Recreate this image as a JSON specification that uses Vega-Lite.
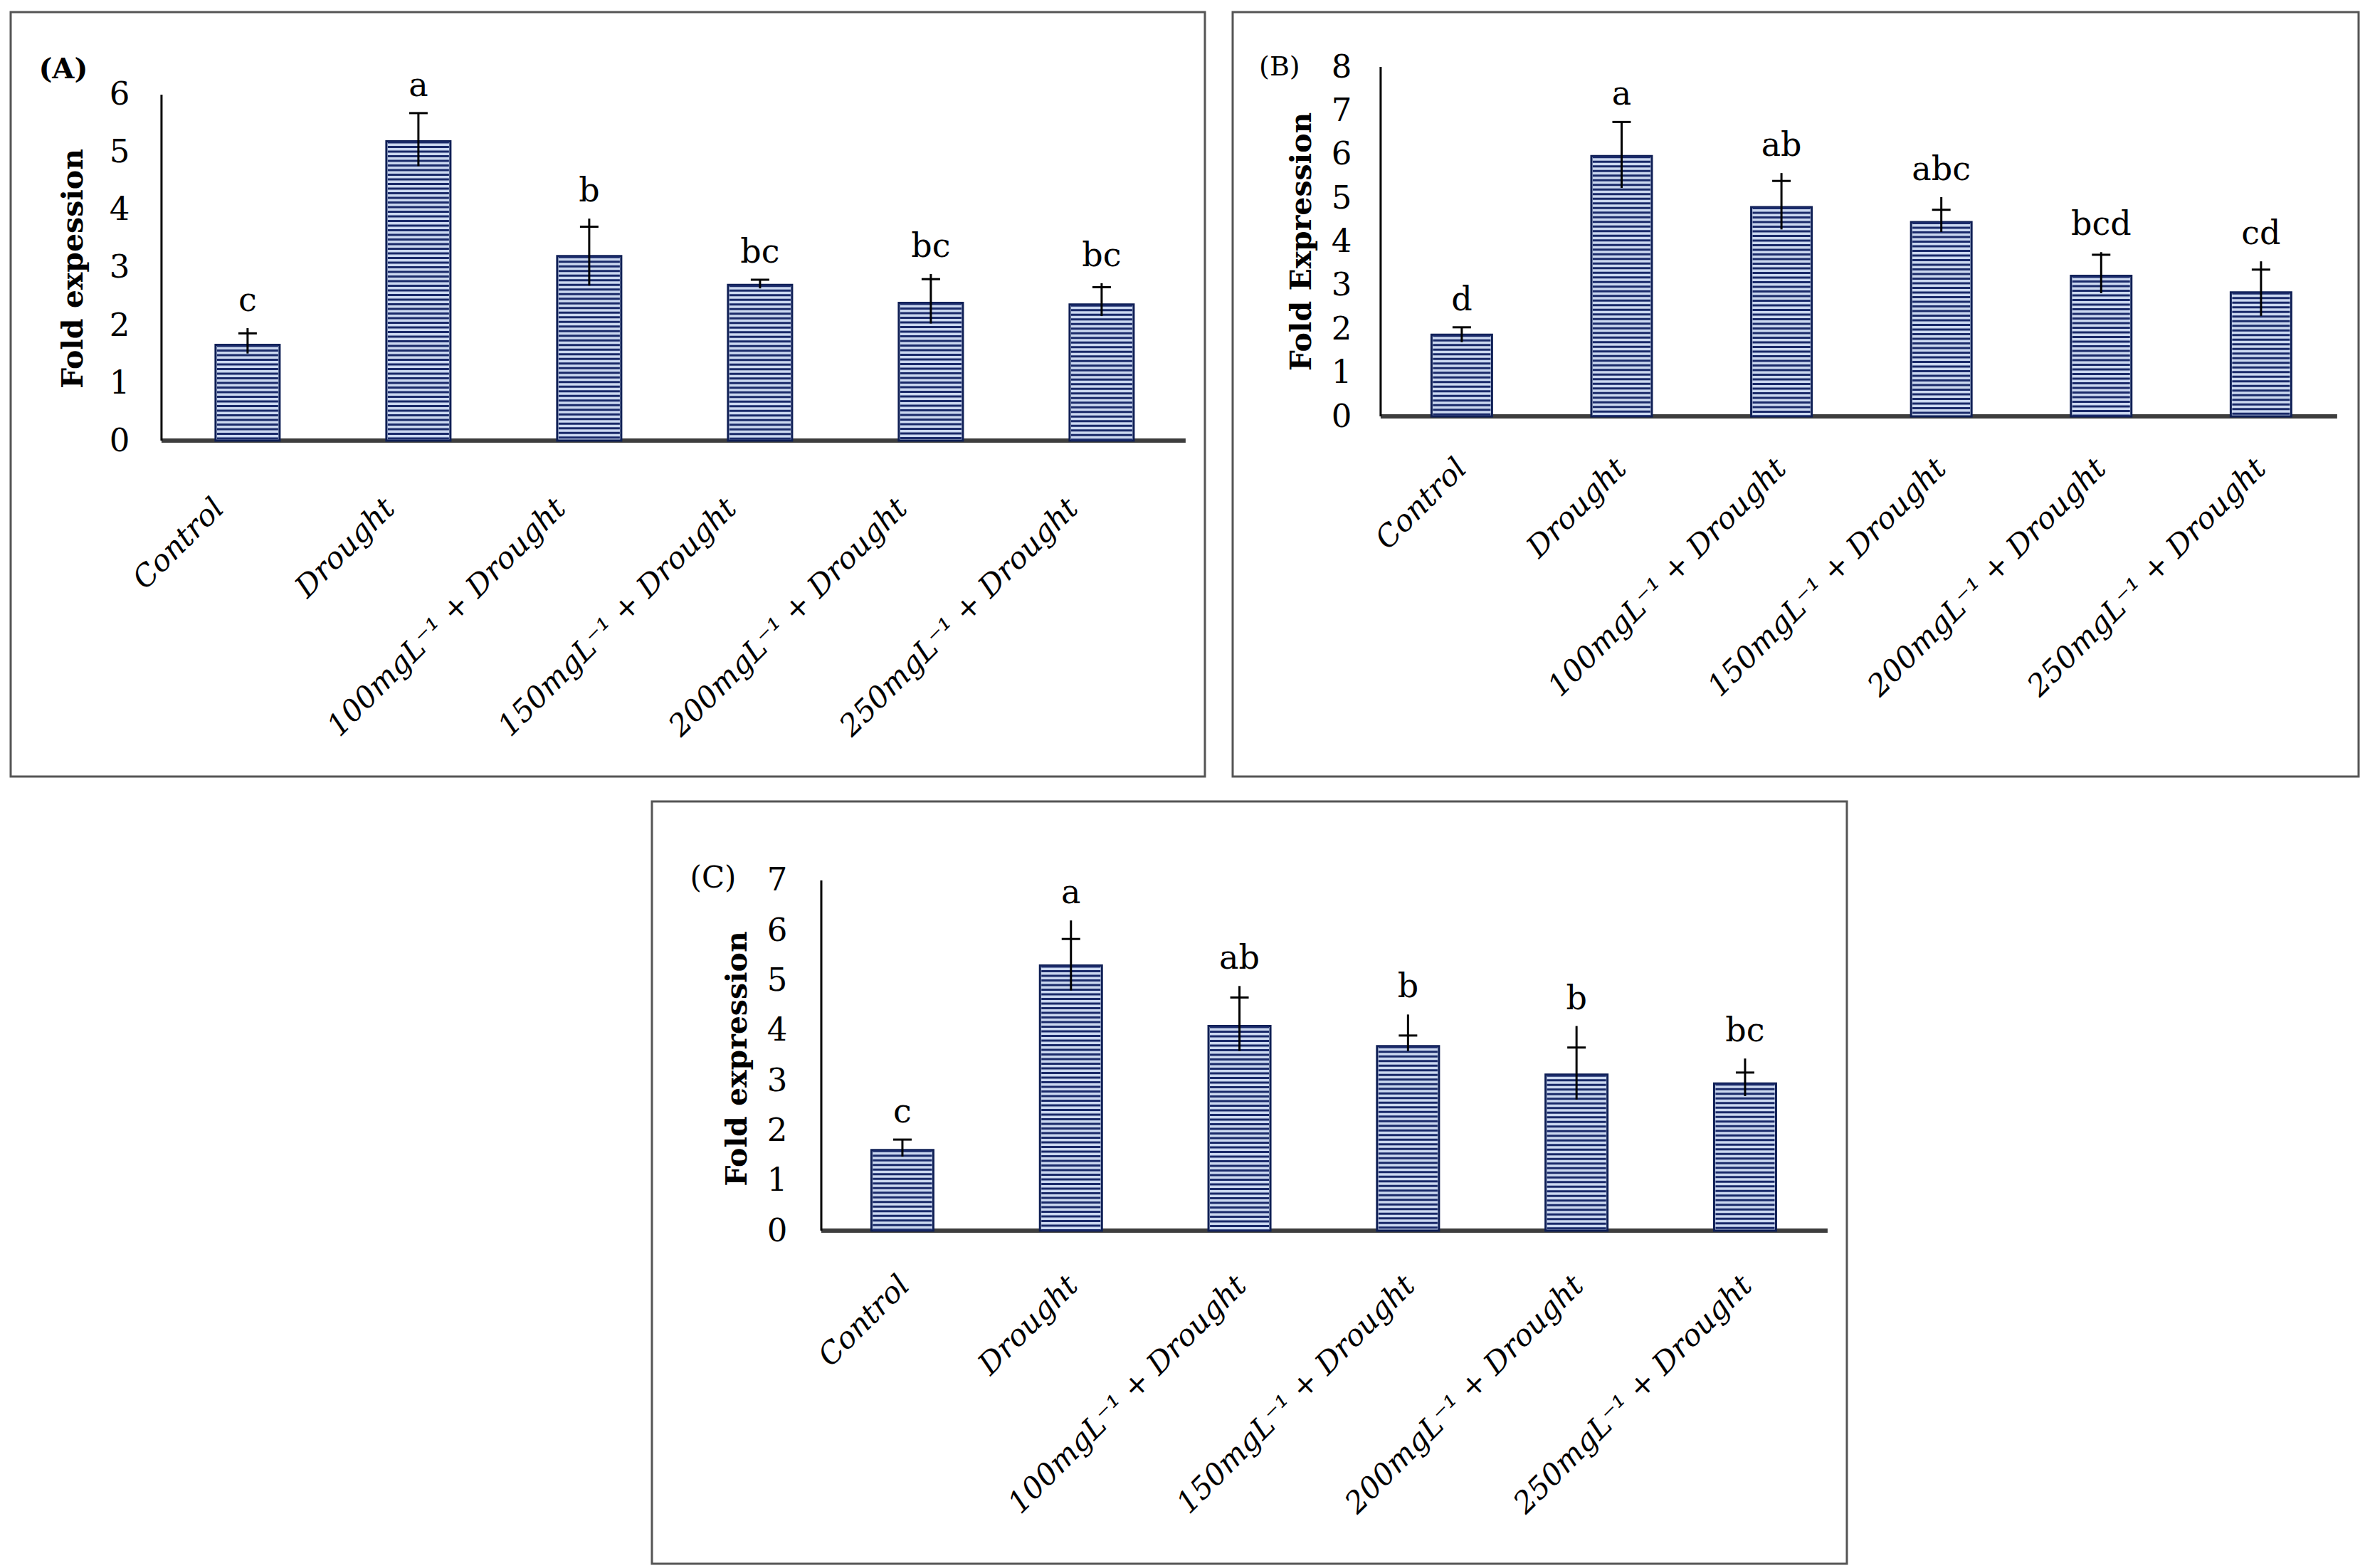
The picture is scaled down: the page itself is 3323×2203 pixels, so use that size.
{
  "$schema": "https://vega.github.io/schema/vega-lite/v6.json",
  "background": "white",
  "padding": {"left": 13, "top": 15, "right": 0, "bottom": 0},
  "datasets": {
    "A": [
      {"t": "Control", "mean": 1.66, "lo": 1.51, "hi": 1.95, "cap": 1.86, "sig": "c"},
      {"t": "Drought", "mean": 5.19, "lo": 4.76, "hi": 5.68, "cap": 5.68, "sig": "a"},
      {"t": "100mgL⁻¹ + Drought", "mean": 3.20, "lo": 2.69, "hi": 3.85, "cap": 3.71, "sig": "b"},
      {"t": "150mgL⁻¹ + Drought", "mean": 2.70, "lo": 2.64, "hi": 2.79, "cap": 2.79, "sig": "bc"},
      {"t": "200mgL⁻¹ + Drought", "mean": 2.39, "lo": 2.03, "hi": 2.89, "cap": 2.80, "sig": "bc"},
      {"t": "250mgL⁻¹ + Drought", "mean": 2.36, "lo": 2.16, "hi": 2.73, "cap": 2.66, "sig": "bc"}
    ],
    "B": [
      {"t": "Control", "mean": 1.87, "lo": 1.70, "hi": 2.04, "cap": 2.04, "sig": "d"},
      {"t": "Drought", "mean": 5.96, "lo": 5.23, "hi": 6.74, "cap": 6.74, "sig": "a"},
      {"t": "100mgL⁻¹ + Drought", "mean": 4.79, "lo": 4.28, "hi": 5.57, "cap": 5.39, "sig": "ab"},
      {"t": "150mgL⁻¹ + Drought", "mean": 4.45, "lo": 4.22, "hi": 5.02, "cap": 4.73, "sig": "abc"},
      {"t": "200mgL⁻¹ + Drought", "mean": 3.22, "lo": 2.82, "hi": 3.76, "cap": 3.70, "sig": "bcd"},
      {"t": "250mgL⁻¹ + Drought", "mean": 2.84, "lo": 2.30, "hi": 3.55, "cap": 3.36, "sig": "cd"}
    ],
    "C": [
      {"t": "Control", "mean": 1.61, "lo": 1.48, "hi": 1.82, "cap": 1.82, "sig": "c"},
      {"t": "Drought", "mean": 5.30, "lo": 4.80, "hi": 6.20, "cap": 5.83, "sig": "a"},
      {"t": "100mgL⁻¹ + Drought", "mean": 4.09, "lo": 3.59, "hi": 4.89, "cap": 4.66, "sig": "ab"},
      {"t": "150mgL⁻¹ + Drought", "mean": 3.69, "lo": 3.59, "hi": 4.32, "cap": 3.90, "sig": "b"},
      {"t": "200mgL⁻¹ + Drought", "mean": 3.12, "lo": 2.62, "hi": 4.09, "cap": 3.66, "sig": "b"},
      {"t": "250mgL⁻¹ + Drought", "mean": 2.94, "lo": 2.69, "hi": 3.44, "cap": 3.16, "sig": "bc"}
    ]
  },
  "spacing": 31,
  "vconcat": [
    {
      "spacing": 35,
      "hconcat": [
        {
          "width": 1678, "height": 1074,
          "view": {"stroke": "#555555", "strokeWidth": 3},
          "data": {"name": "A"},
          "layer": [
            {"data": {"values": [{}]}, "mark": {"type": "rule", "stroke": "#3d3d3d", "strokeWidth": 6},
             "encoding": {"x": {"datum": "Control", "type": "nominal", "bandPosition": -0.844}, "x2": {"datum": "250mgL⁻¹ + Drought", "bandPosition": 1.811}, "y": {"datum": 0, "type": "quantitative"}}},
            {"data": {"values": [{}]}, "mark": {"type": "rule", "stroke": "#000000", "strokeWidth": 3},
             "encoding": {"x": {"datum": "Control", "type": "nominal", "bandPosition": -0.844}, "y": {"datum": 0, "type": "quantitative"}, "y2": {"datum": 6}}},
            {"mark": {"type": "bar", "fill": "#cbd8f0", "stroke": "#0f1f55", "strokeWidth": 3},
             "encoding": {
               "x": {"field": "t", "type": "nominal", "sort": null,
                     "scale": {"domain": ["Control", "Drought", "100mgL⁻¹ + Drought", "150mgL⁻¹ + Drought", "200mgL⁻¹ + Drought", "250mgL⁻¹ + Drought"], "paddingInner": 0.625, "paddingOuter": 0.8083, "align": 0.742},
                     "axis": {"title": null, "orient": "bottom", "offset": -472, "labelAngle": -45, "labelAlign": "right", "labelBaseline": "middle", "labelFontSize": 42, "labelFontStyle": "italic", "labelPadding": 88, "labelOffset": -40}},
               "y": {"field": "mean", "type": "quantitative",
                     "scale": {"domain": [-5.827, 7.432], "nice": false, "zero": false},
                     "axis": {"title": "Fold expession", "orient": "left", "offset": -212, "values": [0, 1, 2, 3, 4, 5, 6], "format": "d", "labelFontSize": 45, "labelPadding": 45, "titleFontSize": 41, "titleFontWeight": "bold", "titleX": -124, "titleY": 360, "titleAngle": 270, "titleAlign": "center", "titleBaseline": "middle"}},
               "y2": {"datum": 0}}},
            {"mark": {"type": "rule", "stroke": "#1a2a6a", "strokeWidth": 86, "strokeDash": [3, 3.5]},
             "encoding": {"x": {"field": "t", "type": "nominal"}, "y": {"field": "mean", "type": "quantitative"}, "y2": {"datum": 0}}},
            {"mark": {"type": "rule", "stroke": "#000000", "strokeWidth": 3},
             "encoding": {"x": {"field": "t", "type": "nominal"}, "y": {"field": "lo", "type": "quantitative"}, "y2": {"field": "hi"}}},
            {"mark": {"type": "tick", "color": "#000000", "thickness": 3, "size": 26, "orient": "horizontal", "opacity": 1},
             "encoding": {"x": {"field": "t", "type": "nominal"}, "y": {"field": "cap", "type": "quantitative"}}},
            {"mark": {"type": "text", "fontSize": 46, "dy": -38, "baseline": "middle", "color": "#000000"},
             "encoding": {"x": {"field": "t", "type": "nominal"}, "y": {"field": "hi", "type": "quantitative"}, "text": {"field": "sig"}}},
            {"data": {"values": [{}]}, "mark": {"type": "text", "fontSize": 40, "fontWeight": "bold", "baseline": "middle", "color": "#000000"},
             "encoding": {"x": {"datum": "Control", "type": "nominal", "bandPosition": -2.378}, "y": {"datum": 6.43, "type": "quantitative"}, "text": {"value": "(A)"}}}
          ]
        },
        {
          "width": 1582, "height": 1074,
          "view": {"stroke": "#555555", "strokeWidth": 3},
          "data": {"name": "B"},
          "layer": [
            {"data": {"values": [{}]}, "mark": {"type": "rule", "stroke": "#3d3d3d", "strokeWidth": 6},
             "encoding": {"x": {"datum": "Control", "type": "nominal", "bandPosition": -0.841}, "x2": {"datum": "250mgL⁻¹ + Drought", "bandPosition": 1.759}, "y": {"datum": 0, "type": "quantitative"}}},
            {"data": {"values": [{}]}, "mark": {"type": "rule", "stroke": "#000000", "strokeWidth": 3},
             "encoding": {"x": {"datum": "Control", "type": "nominal", "bandPosition": -0.841}, "y": {"datum": 0, "type": "quantitative"}, "y2": {"datum": 8}}},
            {"mark": {"type": "bar", "fill": "#cbd8f0", "stroke": "#0f1f55", "strokeWidth": 3},
             "encoding": {
               "x": {"field": "t", "type": "nominal", "sort": null,
                     "scale": {"domain": ["Control", "Drought", "100mgL⁻¹ + Drought", "150mgL⁻¹ + Drought", "200mgL⁻¹ + Drought", "250mgL⁻¹ + Drought"], "paddingInner": 0.6216, "paddingOuter": 0.8326, "align": 0.747},
                     "axis": {"title": null, "orient": "bottom", "offset": -506, "labelAngle": -45, "labelAlign": "right", "labelBaseline": "middle", "labelFontSize": 42, "labelFontStyle": "italic", "labelPadding": 66, "labelOffset": 0}},
               "y": {"field": "mean", "type": "quantitative",
                     "scale": {"domain": [-8.244, 9.255], "nice": false, "zero": false},
                     "axis": {"title": "Fold Expression", "orient": "left", "offset": -208, "values": [0, 1, 2, 3, 4, 5, 6, 7, 8], "format": "d", "labelFontSize": 45, "labelPadding": 41, "titleFontSize": 41, "titleFontWeight": "bold", "titleX": -111, "titleY": 322, "titleAngle": 270, "titleAlign": "center", "titleBaseline": "middle"}},
               "y2": {"datum": 0}}},
            {"mark": {"type": "rule", "stroke": "#1a2a6a", "strokeWidth": 81, "strokeDash": [3, 3.5]},
             "encoding": {"x": {"field": "t", "type": "nominal"}, "y": {"field": "mean", "type": "quantitative"}, "y2": {"datum": 0}}},
            {"mark": {"type": "rule", "stroke": "#000000", "strokeWidth": 3},
             "encoding": {"x": {"field": "t", "type": "nominal"}, "y": {"field": "lo", "type": "quantitative"}, "y2": {"field": "hi"}}},
            {"mark": {"type": "tick", "color": "#000000", "thickness": 3, "size": 26, "orient": "horizontal", "opacity": 1},
             "encoding": {"x": {"field": "t", "type": "nominal"}, "y": {"field": "cap", "type": "quantitative"}}},
            {"mark": {"type": "text", "fontSize": 46, "dy": -38, "baseline": "middle", "color": "#000000"},
             "encoding": {"x": {"field": "t", "type": "nominal"}, "y": {"field": "hi", "type": "quantitative"}, "text": {"field": "sig"}}},
            {"data": {"values": [{}]}, "mark": {"type": "text", "fontSize": 38, "baseline": "middle", "color": "#000000"},
             "encoding": {"x": {"datum": "Control", "type": "nominal", "bandPosition": -2.512}, "y": {"datum": 7.98, "type": "quantitative"}, "text": {"value": "(B)"}}}
          ]
        }
      ]
    },
    {
      "spacing": 0,
      "hconcat": [
        {"width": 899, "height": 50, "data": {"values": []}, "mark": "point", "view": {"stroke": null, "fill": "#ffffff"}},
        {
          "width": 1679, "height": 1071,
          "view": {"stroke": "#555555", "strokeWidth": 3},
          "data": {"name": "C"},
          "layer": [
            {"data": {"values": [{}]}, "mark": {"type": "rule", "stroke": "#3d3d3d", "strokeWidth": 6},
             "encoding": {"x": {"datum": "Control", "type": "nominal", "bandPosition": -0.810}, "x2": {"datum": "250mgL⁻¹ + Drought", "bandPosition": 1.833}, "y": {"datum": 0, "type": "quantitative"}}},
            {"data": {"values": [{}]}, "mark": {"type": "rule", "stroke": "#000000", "strokeWidth": 3},
             "encoding": {"x": {"datum": "Control", "type": "nominal", "bandPosition": -0.810}, "y": {"datum": 0, "type": "quantitative"}, "y2": {"datum": 7}}},
            {"mark": {"type": "bar", "fill": "#cbd8f0", "stroke": "#0f1f55", "strokeWidth": 3},
             "encoding": {
               "x": {"field": "t", "type": "nominal", "sort": null,
                     "scale": {"domain": ["Control", "Drought", "100mgL⁻¹ + Drought", "150mgL⁻¹ + Drought", "200mgL⁻¹ + Drought", "250mgL⁻¹ + Drought"], "paddingInner": 0.6326, "paddingOuter": 0.8615, "align": 0.756},
                     "axis": {"title": null, "orient": "bottom", "offset": -468, "labelAngle": -45, "labelAlign": "right", "labelBaseline": "middle", "labelFontSize": 42, "labelFontStyle": "italic", "labelPadding": 70, "labelOffset": 3}},
               "y": {"field": "mean", "type": "quantitative",
                     "scale": {"domain": [-6.658, 8.579], "nice": false, "zero": false},
                     "axis": {"title": "Fold expression", "orient": "left", "offset": -238, "values": [0, 1, 2, 3, 4, 5, 6, 7], "format": "d", "labelFontSize": 45, "labelPadding": 48, "titleFontSize": 41, "titleFontWeight": "bold", "titleX": -118, "titleY": 361, "titleAngle": 270, "titleAlign": "center", "titleBaseline": "middle"}},
               "y2": {"datum": 0}}},
            {"mark": {"type": "rule", "stroke": "#1a2a6a", "strokeWidth": 83, "strokeDash": [3, 3.5]},
             "encoding": {"x": {"field": "t", "type": "nominal"}, "y": {"field": "mean", "type": "quantitative"}, "y2": {"datum": 0}}},
            {"mark": {"type": "rule", "stroke": "#000000", "strokeWidth": 3},
             "encoding": {"x": {"field": "t", "type": "nominal"}, "y": {"field": "lo", "type": "quantitative"}, "y2": {"field": "hi"}}},
            {"mark": {"type": "tick", "color": "#000000", "thickness": 3, "size": 26, "orient": "horizontal", "opacity": 1},
             "encoding": {"x": {"field": "t", "type": "nominal"}, "y": {"field": "cap", "type": "quantitative"}}},
            {"mark": {"type": "text", "fontSize": 46, "dy": -38, "baseline": "middle", "color": "#000000"},
             "encoding": {"x": {"field": "t", "type": "nominal"}, "y": {"field": "hi", "type": "quantitative"}, "text": {"field": "sig"}}},
            {"data": {"values": [{}]}, "mark": {"type": "text", "fontSize": 42, "baseline": "middle", "color": "#000000"},
             "encoding": {"x": {"datum": "Control", "type": "nominal", "bandPosition": -2.557}, "y": {"datum": 7.04, "type": "quantitative"}, "text": {"value": "(C)"}}}
          ]
        }
      ]
    }
  ],
  "config": {
    "view": {"stroke": null},
    "font": "DejaVu Serif",
    "text": {"font": "DejaVu Serif"},
    "axis": {"labelFont": "DejaVu Serif", "titleFont": "DejaVu Serif", "labelColor": "#000000", "titleColor": "#000000", "grid": false, "ticks": false, "domain": false, "labelLimit": 0, "labelOverlap": false, "labelFlush": false}
  }
}
